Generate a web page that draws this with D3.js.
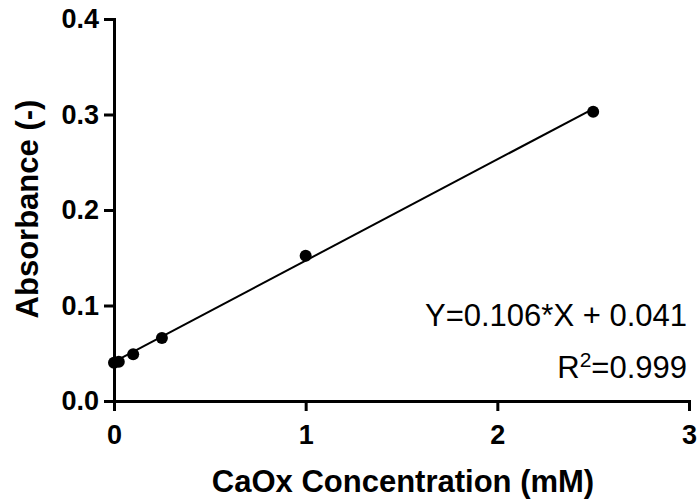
<!DOCTYPE html>
<html>
<head>
<meta charset="utf-8">
<script src="https://cdn.jsdelivr.net/npm/d3@7"></script>
<style>
  html, body { margin: 0; padding: 0; background: #fff; }
  svg { display: block; font-family: "Liberation Sans", Arial, sans-serif; }
</style>
</head>
<body>
<svg id="chart" width="699" height="501"></svg>
<script>
// Data
const concentration = [0, 0.025, 0.1, 0.25, 1, 2.5];
const absorbance = [0.040, 0.041, 0.049, 0.066, 0.152, 0.303];
const fitX = [0, 2.5];
const fitY = [0.041, 0.306];
const xTicks = [0, 1, 2, 3];
const yTicks = [0.0, 0.1, 0.2, 0.3, 0.4];
const equationText = "Y=0.106*X + 0.041";
const r2Label = "0.999";

const svg = d3.select("#chart");
const x = d3.scaleLinear().domain([0, 3]).range([114, 689]);
const y = d3.scaleLinear().domain([0, 0.4]).range([401, 19]);

// Axes
const xAxis = d3.axisBottom(x).tickValues(xTicks).tickFormat(d3.format("d"))
  .tickSizeInner(10).tickSizeOuter(0).tickPadding(14);
const yAxis = d3.axisLeft(y).tickValues(yTicks).tickFormat(d3.format(".1f"))
  .tickSizeInner(10).tickSizeOuter(0).tickPadding(5);

const gx = svg.append("g").attr("transform", `translate(0,${y(0)})`).call(xAxis);
const gy = svg.append("g").attr("transform", `translate(${x(0)},0)`).call(yAxis);

[gx, gy].forEach(g => {
  g.select(".domain").attr("stroke", "#000").attr("stroke-width", 3).attr("stroke-linecap", "square");
  g.selectAll(".tick line").attr("stroke", "#000").attr("stroke-width", 3);
  g.selectAll(".tick text").attr("fill", "#000")
    .style("font-family", "'Liberation Sans', Arial, sans-serif")
    .style("font-size", "27px").style("font-weight", "bold");
});

// Fit line
const line = d3.line().x(d => x(d[0])).y(d => y(d[1]));
svg.append("path")
  .datum(fitX.map((v, i) => [v, fitY[i]]))
  .attr("d", line)
  .attr("fill", "none")
  .attr("stroke", "#000")
  .attr("stroke-width", 2);

// Points
svg.selectAll("circle.pt")
  .data(concentration.map((v, i) => [v, absorbance[i]]))
  .enter().append("circle")
  .attr("class", "pt")
  .attr("cx", d => x(d[0]))
  .attr("cy", d => y(d[1]))
  .attr("r", 6)
  .attr("fill", "#000");

// Axis titles
svg.append("text")
  .attr("x", 403).attr("y", 492)
  .attr("text-anchor", "middle")
  .style("font-size", "31px").style("font-weight", "bold")
  .text("CaOx Concentration (mM)");

svg.append("text")
  .attr("transform", "translate(38,209) rotate(-90)")
  .attr("text-anchor", "middle")
  .style("font-size", "31px").style("font-weight", "bold")
  .text("Absorbance (-)");

// Equation
svg.append("text")
  .attr("x", 687).attr("y", 326)
  .attr("text-anchor", "end")
  .style("font-size", "31px")
  .text(equationText);

const r2 = svg.append("text")
  .attr("x", 687).attr("y", 378)
  .attr("text-anchor", "end")
  .style("font-size", "31px");
r2.append("tspan").text("R");
r2.append("tspan").attr("dy", -11).style("font-size", "21px").text("2");
r2.append("tspan").attr("dy", 11).text("=" + r2Label);
</script>
</body>
</html>
